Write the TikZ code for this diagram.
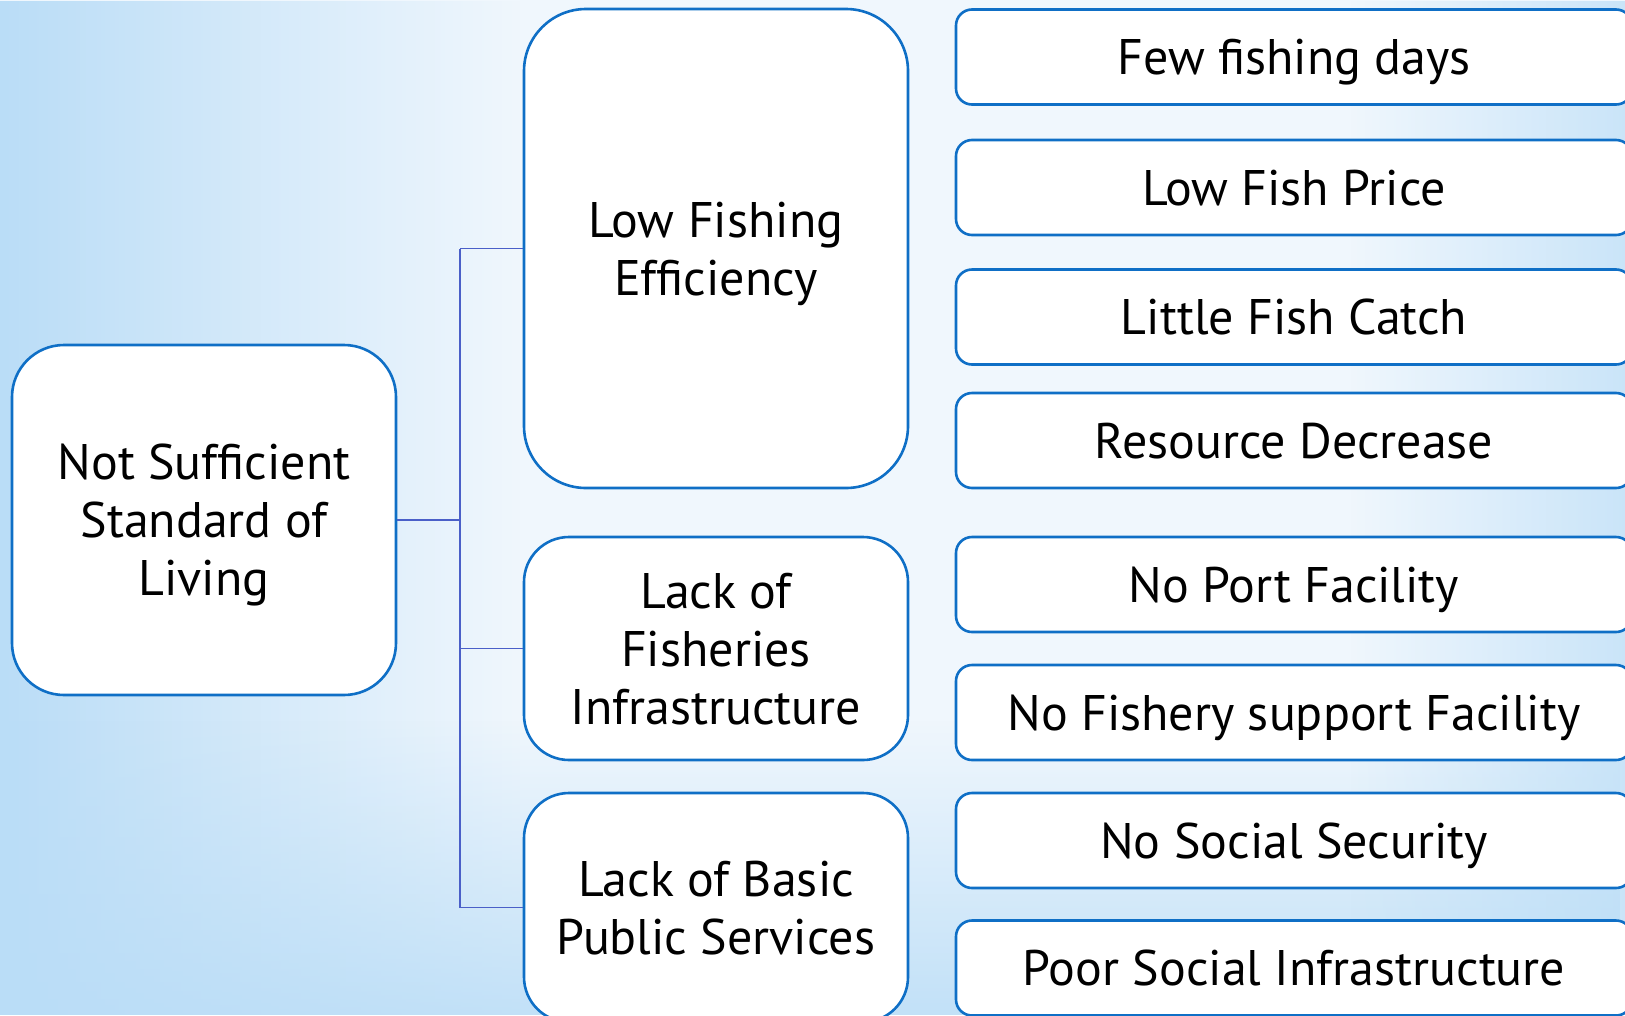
\documentclass[tikz,border=0pt]{standalone}
\usepackage{fontspec}
\setmainfont{PT Sans}
\usetikzlibrary{fadings}
\definecolor{boxblue}{HTML}{0F6FC6}
\definecolor{connblue}{HTML}{4A5FC8}
\definecolor{bgbase}{HTML}{F0F7FD}
\definecolor{bgblue}{HTML}{BADDF7}
\begin{document}
\begin{tikzpicture}[x=1pt,y=-1pt,
  rboxbase/.style={draw=boxblue,line width=2.6pt,fill=white,
    font=\fontsize{50}{58}\selectfont,inner sep=0pt},
  bigbox/.style={rboxbase,align=center,minimum width=384pt,rounded corners=#1,text depth=0pt},
  smallbox/.style={rboxbase,minimum width=676pt,minimum height=95pt,rounded corners=16pt,
    text height=35pt,text depth=0pt},
  conn/.style={draw=connblue,line width=1.6pt}]
\useasboundingbox (0,0) rectangle (1625,1015);
\clip (0,0) rectangle (1625,1015);
% background
\fill[bgbase] (0,0) rectangle (1625,1015);
\fill[bgblue,path fading=east] (0,0) rectangle (520,1015);
\fill[bgblue,path fading=north,opacity=0.85] (0,720) rectangle (1625,1015);
\fill[bgblue,path fading=west,opacity=0.7] (1350,0) rectangle (1625,1015);
% nodes
\node[bigbox=52pt,minimum height=350pt] (root) at (204,520) {Not Sufficient\\Standard of\\Living};
\node[bigbox=62pt,minimum height=479pt] (m1) at (716,248.5) {Low Fishing\\Efficiency};
\node[bigbox=45pt,minimum height=223pt] (m2) at (716,648.5) {Lack of\\Fisheries\\Infrastructure};
\node[bigbox=45pt,minimum height=229pt] (m3) at (716,907.5) {Lack of Basic\\Public Services};
\node[smallbox] (r1) at (1294,57) {Few fishing days};
\node[smallbox] (r2) at (1294,187.5) {Low Fish Price};
\node[smallbox] (r3) at (1294,317) {Little Fish Catch};
\node[smallbox] (r4) at (1294,440.5) {Resource Decrease};
\node[smallbox] (r5) at (1294,584.5) {No Port Facility};
\node[smallbox] (r6) at (1294,712.5) {No Fishery support Facility};
\node[smallbox] (r7) at (1294,840.5) {No Social Security};
\node[smallbox] (r8) at (1294,968) {Poor Social Infrastructure};
% connectors
\coordinate (bus) at (460,520);
\draw[conn] (root.east) -- (bus);
\draw[conn] (bus |- m1.west) -- (bus |- m3.west);
\draw[conn] (bus |- m1.west) -- (m1.west);
\draw[conn] (bus |- m2.west) -- (m2.west);
\draw[conn] (bus |- m3.west) -- (m3.west);
\end{tikzpicture}
\end{document}
